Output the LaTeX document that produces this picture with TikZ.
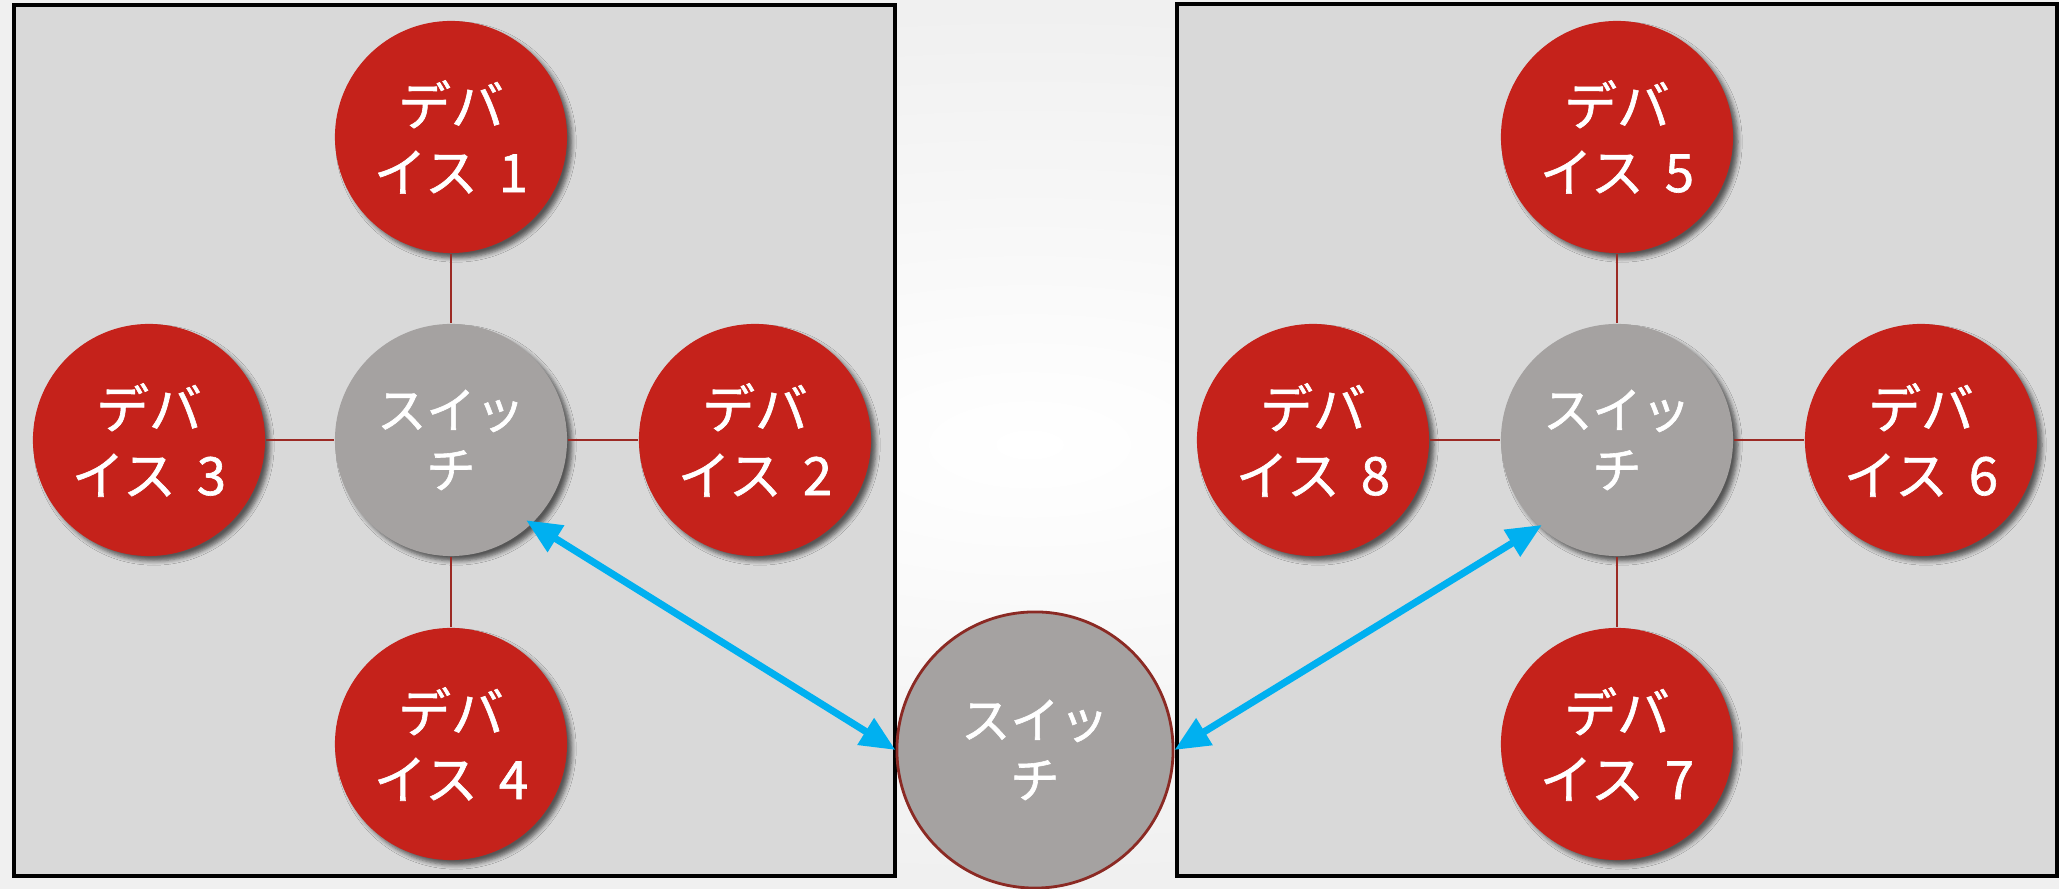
\documentclass[tikz,border=0pt]{standalone}
\usepackage{fontspec}
\newfontfamily\jp[FakeBold=1.2]{Noto Sans CJK JP}
\usetikzlibrary{arrows.meta,shadows.blur}
\definecolor{devred}{HTML}{C5221B}
\definecolor{swgray}{HTML}{A5A2A1}
\definecolor{boxgray}{HTML}{D9D9D9}
\definecolor{linkred}{HTML}{9C2A24}
\definecolor{midborder}{HTML}{8B2A24}
\definecolor{arrblue}{HTML}{00B0F0}
\newcommand{\devlabel}[1]{デバ\\イス\hspace{0.4em}#1}
\begin{document}
\begin{tikzpicture}[x=0.01cm,y=-0.01cm,
  shad/.style={blur shadow={shadow xshift=1.4pt,shadow yshift=-1.4pt,shadow blur steps=5,shadow blur radius=1.2pt,shadow opacity=60}},
  dev/.style={circle, fill=devred, minimum size=2.32cm, inner sep=0pt, text=white, align=center, font=\jp\fontsize{15}{19}\selectfont, shad},
  sw/.style={circle, fill=swgray, minimum size=2.32cm, inner sep=0pt, text=white, align=center, font=\jp\fontsize{14}{17}\selectfont, shad},
  midsw/.style={circle, fill=swgray, draw=midborder, line width=0.8pt, minimum size=2.76cm, inner sep=0pt, text=white, align=center, font=\jp\fontsize{14}{17}\selectfont},
  areabox/.style={fill=boxgray, draw=black, line width=1.1pt},
  link/.style={draw=linkred, line width=0.7pt},
  arr/.style={draw=arrblue, line width=2pt, {Triangle[length=10pt,width=8.5pt]}-{Triangle[length=10pt,width=8.5pt]}}
]
\useasboundingbox (0,0) rectangle (2059,889);
\shade[inner color=white, outer color=black!6] (0,0) rectangle (2059,889);
\draw[areabox] (14,5) rectangle (895,876);
\draw[areabox] (1177,4) rectangle (2057,876);

% left group
\node[sw]  (sw1) at (451,440) {スイッ\\チ};
\node[dev] (d1) at (451,137) {\devlabel{1}};
\node[dev] (d2) at (755,440) {\devlabel{2}};
\node[dev] (d3) at (149,440) {\devlabel{3}};
\node[dev] (d4) at (451,744) {\devlabel{4}};

% right group
\node[sw]  (sw2) at (1617,440) {スイッ\\チ};
\node[dev] (d5) at (1617,137) {\devlabel{5}};
\node[dev] (d6) at (1921,440) {\devlabel{6}};
\node[dev] (d7) at (1617,744) {\devlabel{7}};
\node[dev] (d8) at (1313,440) {\devlabel{8}};

% middle switch
\node[midsw] (mid) at (1035,750) {スイッ\\チ};

\draw[link] (sw1) -- (d1);
\draw[link] (sw1) -- (d2);
\draw[link] (sw1) -- (d3);
\draw[link] (sw1) -- (d4);
\draw[link] (sw2) -- (d5);
\draw[link] (sw2) -- (d6);
\draw[link] (sw2) -- (d7);
\draw[link] (sw2) -- (d8);

\draw[arr, shorten <=-2pt] (sw1.-46) -- (mid.west);
\draw[arr, shorten <=-1pt] (sw2.-132) -- (mid.east);
\end{tikzpicture}
\end{document}
